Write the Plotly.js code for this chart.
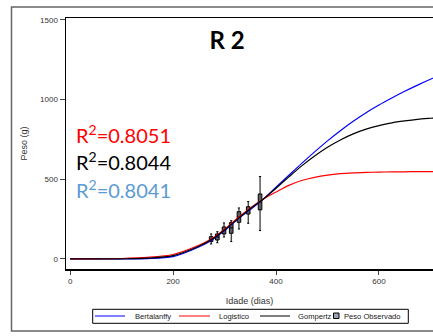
<!DOCTYPE html>
<html>
<head>
<meta charset="utf-8">
<script src="https://cdn.plot.ly/plotly-3.0.1.min.js"></script>
<style>
  html, body { margin: 0; padding: 0; overflow: hidden; background: #fff; }
  #chart { width: 433px; height: 336px; }
</style>
</head>
<body>
<div id="chart"></div>
<script>
// Curve sample ages (days) and values
const curveAges = [0, 50, 100, 150, 200, 250, 275, 300, 325, 350, 375, 400, 425, 450, 475, 500, 525, 550, 575, 600, 625, 650, 675, 700, 720];
const bertalanffy = [0, 0, 0, 2, 15, 75, 118, 178, 248, 310, 375, 450, 525, 600, 672, 741, 805, 864, 918, 966, 1010, 1052, 1091, 1128, 1155];
const logistico   = [0, 1, 3, 10, 28, 86, 126, 186, 255, 320, 375, 420, 462, 492, 512, 526, 535, 540, 543, 545, 546, 547, 548, 548, 548];
const gompertz    = [0, 0, 1, 5, 21, 80, 122, 182, 250, 315, 375, 444, 515, 584, 646, 701, 747, 785, 815, 837, 854, 866, 876, 883, 888];

// Observed weights (box summaries)
const obsAges  = [274, 286, 299, 313, 328, 346, 369];
const obsLow   = [94, 102, 138, 109, 188, 224, 178];
const obsQ1    = [109, 119, 157, 161, 230, 282, 308];
const obsMed   = [125, 138, 179, 195, 264, 305, 358];
const obsQ3    = [140, 157, 201, 228, 297, 328, 408];
const obsHigh  = [157, 171, 226, 240, 320, 360, 517];

const xTicks = [0, 200, 400, 600];
const yTicks = [0, 500, 1000, 1500];

const seriesNames  = ['Bertalanffy', 'Logistico', 'Gompertz'];
const seriesColors = ['#0000FF', '#FF0000', '#000000'];
const obsName = 'Peso Observado';

const r2Labels = ['R<sup>2</sup>=0.8051', 'R<sup>2</sup>=0.8044', 'R<sup>2</sup>=0.8041'];
const r2Colors = ['#FF0000', '#000000', '#5B9BD5'];

// plot-area geometry (px) used for placing paper-referenced decorations
const M = { l: 66, r: 0, t: 18, b: 67 };
const W = 433, H = 336;
const pw = W - M.l - M.r, ph = H - M.t - M.b;
const px = (x) => (x - M.l) / pw;
const py = (y) => (H - M.b - y) / ph;

const lineStyle = (c) => ({ color: c, width: 1.2, shape: 'spline', smoothing: 0.8 });
const seriesData = [bertalanffy, logistico, gompertz];

const traces = seriesData.map((d, i) => ({
  type: 'scatter', mode: 'lines', name: seriesNames[i], x: curveAges, y: d, line: lineStyle(seriesColors[i])
}));
traces.push({ type: 'box', name: obsName, x: obsAges, q1: obsQ1, median: obsMed, q3: obsQ3,
  lowerfence: obsLow, upperfence: obsHigh, width: 7, whiskerwidth: 0.6,
  fillcolor: '#5e5e5e', line: { color: '#000000', width: 1 }, marker: { color: '#5e5e5e' } });

const tickFont = { family: 'Liberation Sans, Arial, sans-serif', size: 8, color: '#333' };
const legFont = { family: 'Liberation Sans, Arial, sans-serif', size: 7.6, color: '#222' };

const r2Annotations = r2Labels.map((t, i) => ({
  text: t, xref: 'paper', yref: 'paper', x: 0.021, y: 0.538 - i * 0.109,
  xanchor: 'left', yanchor: 'middle', showarrow: false,
  font: { family: 'Lato, Open Sans, sans-serif', size: 20, color: r2Colors[i] }
}));

// manual legend (box, sample lines, labels)
const legY = 316;
const legLines = [[95, 125, 132.5], [179, 210, 217], [260, 290, 296]];
const legShapes = [
  { type: 'rect', xref: 'paper', yref: 'paper', x0: px(92.7), x1: px(408.3), y0: py(323.3), y1: py(309.3),
    line: { color: '#000', width: 1 }, fillcolor: '#fff' },
  ...legLines.map((l, i) => ({ type: 'line', xref: 'paper', yref: 'paper', x0: px(l[0]), x1: px(l[1]),
    y0: py(legY), y1: py(legY), line: { color: seriesColors[i], width: 1 } })),
  { type: 'rect', xref: 'paper', yref: 'paper', x0: px(333.5), x1: px(339), y0: py(318.5), y1: py(313),
    line: { color: '#000', width: 1 }, fillcolor: '#9aa3b0' }
];
const legAnn = [
  ...legLines.map((l, i) => ({ text: seriesNames[i], xref: 'paper', yref: 'paper', x: px(l[2]), y: py(legY),
    xanchor: 'left', yanchor: 'middle', showarrow: false, font: legFont })),
  { text: obsName, xref: 'paper', yref: 'paper', x: px(342), y: py(legY),
    xanchor: 'left', yanchor: 'middle', showarrow: false, font: legFont }
];

const layout = {
  width: W, height: H,
  margin: M,
  paper_bgcolor: '#fff', plot_bgcolor: '#fff',
  showlegend: false,
  title: { text: '<b>R 2</b>', xref: 'paper', yref: 'paper', x: 0.439, xanchor: 'center', y: 0.91, yanchor: 'middle',
           font: { family: 'Lato, Liberation Sans, sans-serif', size: 24, color: '#000' } },
  xaxis: {
    range: [-8, 705], tickvals: xTicks, ticktext: xTicks.map(String),
    showline: true, linecolor: '#000', linewidth: 1.5, mirror: true,
    showgrid: false, zeroline: false, ticks: 'outside', ticklen: 4, tickcolor: '#444', tickwidth: 1,
    tickfont: tickFont,
    title: { text: 'Idade (dias)', font: { family: 'Liberation Sans, Arial, sans-serif', size: 9, color: '#333' }, standoff: 12 }
  },
  yaxis: {
    range: [-63, 1512], tickvals: yTicks, ticktext: yTicks.map(String),
    showline: true, linecolor: '#000', linewidth: 1.5, mirror: false,
    showgrid: false, zeroline: false, ticks: 'outside', ticklen: 5, tickcolor: '#444', tickwidth: 1,
    tickfont: tickFont,
    title: { text: 'Peso (g)', font: { family: 'Liberation Sans, Arial, sans-serif', size: 9, color: '#333' }, standoff: 11 }
  },
  shapes: [
    { type: 'rect', xref: 'paper', yref: 'paper', x0: px(11.5), x1: 1.2, y0: py(331), y1: py(7),
      line: { color: '#666', width: 1.5 }, fillcolor: 'rgba(0,0,0,0)', layer: 'below' },
    ...legShapes
  ],
  annotations: [...r2Annotations, ...legAnn]
};

Plotly.newPlot('chart', traces, layout, { displayModeBar: false, staticPlot: true });
</script>
</body>
</html>
